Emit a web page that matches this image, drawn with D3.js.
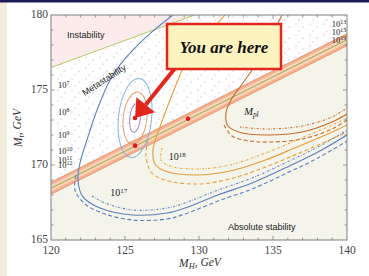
<!DOCTYPE html>
<html>
<head>
<meta charset="utf-8">
<script src="https://cdn.jsdelivr.net/npm/d3@7"></script>
<style>
body { margin: 0; background: #fff; }
</style>
</head>
<body>
<svg width="369" height="276"></svg>
<script>
// ---- data ----
var xTicks = [120, 125, 130, 135, 140];
var yTicks = [165, 170, 175, 180];

var instabilityEdge = [[120, 176.5], [129.7, 180]];
var stabilityCentre = [[120, 168.45], [140, 178.35]];
var stabilityHalf = 0.4;

var bestFit = [125.68, 173.13];
var redPoints = [[125.68, 173.13], [125.68, 171.29], [129.26, 173.08]];
var sigmaRx = [0.36, 0.8, 1.12];
var sigmaRy = [0.95, 1.75, 2.65];
var sigmaColor = ["#9a8bcb", "#e3a065", "#7db6df"];

var lam17 = [[128.24,180],[126.82,178.87],[125.54,177.67],[124.66,176.67],[123.99,175.67],[123.11,173.67],
  [122.43,171.67],[121.96,170.13],[121.82,169.0],[122.16,167.87],[123.31,167.13],[125.54,166.67],
  [127.84,166.8],[129.05,167.13],[131.28,168.0],[133.58,168.8],[135.81,169.8],[138.04,170.87],[140,172.0]];
var lam17Dash = [[121.69,169.33],[121.62,168.33],[122.3,167.4],[123.65,166.73],[125.54,166.33],[127.84,166.4],
  [129.05,166.73],[131.28,167.6],[133.58,168.4],[135.81,169.4],[138.04,170.47],[140,171.6]];
var lam17Dot = [[122.77,167.93],[123.65,167.47],[125.54,167.0],[127.84,167.13],[129.05,167.47],[131.28,168.33],
  [133.58,169.13],[135.81,170.13],[138.04,171.2],[140,172.33]];

var lam18 = [[131.76,180],[130.74,178.87],[129.73,177.67],[129.05,176.73],[128.58,175.67],[128.04,174.33],
  [127.36,172.53],[126.89,171.0],[127.03,170.07],[127.7,169.6],[129.86,169.33],[132.09,169.6],
  [134.32,170.27],[136.62,171.2],[138.85,172.13],[140,172.67]];
var lam18Dash = [[126.55,171.67],[126.42,170.67],[126.76,169.53],[127.7,169.0],[129.86,168.73],[132.09,169.07],
  [134.32,169.8],[136.62,170.73],[138.85,171.67],[140,172.2]];
var lam18Dot = [[127.5,171.13],[127.43,170.33],[128.04,169.93],[129.86,169.73],[132.09,170.0],[134.32,170.73],
  [136.62,171.67],[138.85,172.6],[140,173.13]];

var lamPl = [[135.61,180],[134.93,178.67],[134.26,177.33],[133.45,176.13],[132.77,175.2],[132.16,174.33],
  [131.82,173.47],[131.96,172.6],[132.91,172.13],[134.66,172.0],[136.96,172.2],[138.99,172.87],[140,173.4]];
var lamPlDash = [[131.69,172.67],[132.23,171.93],[133.45,171.6],[134.66,171.53],[136.96,171.73],[138.99,172.4],[140,173.0]];
var lamPlDot = [[132.77,172.53],[134.66,172.4],[136.96,172.6],[138.99,173.2],[140,173.8]];

var leftExps = [7, 8, 9, 10, 11, 12];
var leftMt = [175.13, 173.33, 171.8, 170.73, 170.13, 169.8];
var rightExps = [13, 15, 19];
var rightMt = [179.2, 178.67, 178.13];

// ---- setup ----
var svg = d3.select("svg");
var x = d3.scaleLinear().domain([120, 140]).range([51, 347]);
var y = d3.scaleLinear().domain([165, 180]).range([240, 15]);
var serif = "Liberation Serif", sans = "Liberation Sans";

// page decorations
svg.append("rect").attr("x", 0).attr("y", 0).attr("width", 7).attr("height", 276).attr("fill", "#f3eddb");
svg.append("rect").attr("x", 0).attr("y", 0).attr("width", 369).attr("height", 2.5).attr("fill", "#1b1b58");

var defs = svg.append("defs");
defs.append("clipPath").attr("id", "plot")
  .append("rect").attr("x", 51).attr("y", 15).attr("width", 296).attr("height", 225);
var pat = defs.append("pattern").attr("id", "dots").attr("patternUnits", "userSpaceOnUse")
  .attr("width", 14).attr("height", 11);
[[2, 2], [9, 5], [5, 9]].forEach(function(p) {
  pat.append("circle").attr("cx", p[0]).attr("cy", p[1]).attr("r", 0.55).attr("fill", "#c58ac8");
});

var g = svg.append("g").attr("clip-path", "url(#plot)");

function bandAt(mh, off) {
  var a = stabilityCentre[0], b = stabilityCentre[1];
  return a[1] + (b[1] - a[1]) * (mh - a[0]) / (b[0] - a[0]) + off;
}
function pt(d) { return x(d[0]) + "," + y(d[1]); }

// stability region
g.append("rect").attr("x", 51).attr("y", 15).attr("width", 296).attr("height", 225).attr("fill", "#f4f4ea");
// metastability region
var meta = [[120, bandAt(120, stabilityHalf)], [120, 180], [140, 180], [140, bandAt(140, stabilityHalf)]];
g.append("polygon").attr("points", meta.map(pt).join(" ")).attr("fill", "#fff");
g.append("polygon").attr("points", meta.map(pt).join(" ")).attr("fill", "url(#dots)");
// instability region
var slope = (instabilityEdge[1][1] - instabilityEdge[0][1]) / (instabilityEdge[1][0] - instabilityEdge[0][0]);
var inst = [instabilityEdge[0], [140, instabilityEdge[0][1] + slope * 20], [140, 181], [120, 181]];
g.append("polygon").attr("points", inst.map(pt).join(" ")).attr("fill", "#fbeceb");
g.append("line")
  .attr("x1", x(120)).attr("y1", y(instabilityEdge[0][1]))
  .attr("x2", x(140)).attr("y2", y(instabilityEdge[0][1] + slope * 20))
  .attr("stroke", "#b7c462").attr("stroke-width", 1);

// stability band: salmon edges, paler inside, green central line
var band = [[120, bandAt(120, stabilityHalf)], [140, bandAt(140, stabilityHalf)],
            [140, bandAt(140, -stabilityHalf)], [120, bandAt(120, -stabilityHalf)]];
g.append("polygon").attr("points", band.map(pt).join(" "))
  .attr("fill", "#f3b190").attr("stroke", "#ee9670").attr("stroke-width", 1);
var inner = [[120, bandAt(120, stabilityHalf * 0.55)], [140, bandAt(140, stabilityHalf * 0.55)],
             [140, bandAt(140, -stabilityHalf * 0.55)], [120, bandAt(120, -stabilityHalf * 0.55)]];
g.append("polygon").attr("points", inner.map(pt).join(" ")).attr("fill", "#f8d2ba");
g.append("line")
  .attr("x1", x(120)).attr("y1", y(stabilityCentre[0][1]))
  .attr("x2", x(140)).attr("y2", y(stabilityCentre[1][1]))
  .attr("stroke", "#93b044").attr("stroke-width", 1);

// contour lines
var line = d3.line().curve(d3.curveCatmullRom.alpha(0.5))
  .x(function(d) { return x(d[0]); })
  .y(function(d) { return y(d[1]); });

var contours = [
  {pts: lam17, c: "#5a80c2", dash: null},
  {pts: lam17Dash, c: "#5a80c2", dash: "4,2.5"},
  {pts: lam17Dot, c: "#5a80c2", dash: "2,1.5,0.6,1.5"},
  {pts: lam18, c: "#e89b3a", dash: null},
  {pts: lam18Dash, c: "#e89b3a", dash: "4,2.5"},
  {pts: lam18Dot, c: "#e89b3a", dash: "2,1.5,0.6,1.5"},
  {pts: lamPl, c: "#c46b2a", dash: null},
  {pts: lamPlDash, c: "#c46b2a", dash: "4,2.5"},
  {pts: lamPlDot, c: "#c46b2a", dash: "2,1.5,0.6,1.5"}
];
g.selectAll(".contour").data(contours).enter().append("path")
  .attr("class", "contour")
  .attr("d", function(d) { return line(d.pts); })
  .attr("fill", "none")
  .attr("stroke", function(d) { return d.c; })
  .attr("stroke-width", 1.1)
  .attr("stroke-dasharray", function(d) { return d.dash; });

// confidence ellipses
var cx = x(bestFit[0]), cy = y(bestFit[1]);
g.selectAll(".sigma").data(sigmaRx).enter().append("ellipse")
  .attr("class", "sigma")
  .attr("cx", cx).attr("cy", cy)
  .attr("rx", function(d) { return x(bestFit[0] + d) - cx; })
  .attr("ry", function(d, i) { return cy - y(bestFit[1] + sigmaRy[i]); })
  .attr("transform", "rotate(6," + cx + "," + cy + ")")
  .attr("fill", "none")
  .attr("stroke", function(d, i) { return sigmaColor[i]; })
  .attr("stroke-width", 1);

g.selectAll(".pt").data(redPoints).enter().append("circle")
  .attr("class", "pt")
  .attr("cx", function(d) { return x(d[0]); })
  .attr("cy", function(d) { return y(d[1]); })
  .attr("r", 2.3).attr("fill", "#e8141c");

// text labels in the plot
function pow10(sel, e) {
  sel.append("tspan").text("10");
  sel.append("tspan").attr("font-size", "0.7em").attr("dy", "-0.45em").text(e);
}
leftExps.forEach(function(e, i) {
  svg.append("text").attr("font-family", serif).attr("x", x(120.47)).attr("y", y(leftMt[i]))
    .attr("font-size", 8.5).attr("fill", "#222")
    .call(pow10, e);
});
rightExps.forEach(function(e, i) {
  svg.append("text").attr("font-family", serif).attr("x", x(139.95)).attr("y", y(rightMt[i]))
    .attr("text-anchor", "end")
    .attr("font-size", 8.5).attr("fill", "#222")
    .call(pow10, e);
});
svg.append("text").attr("font-family", serif).attr("x", x(124)).attr("y", y(167.93))
  .attr("font-size", 10).attr("fill", "#222").call(pow10, 17);
svg.append("text").attr("font-family", serif).attr("x", x(127.95)).attr("y", y(170.33))
  .attr("font-size", 10).attr("fill", "#222").call(pow10, 18);
var mpl = svg.append("text").attr("font-family", serif).attr("x", x(133.05)).attr("y", y(173.33))
  .attr("font-size", 10.5).attr("font-style", "italic").attr("fill", "#222");
mpl.append("tspan").text("M");
mpl.append("tspan").attr("font-size", "0.7em").attr("dy", "0.3em").text("pl");

svg.append("text").attr("font-family", sans).attr("x", x(121.08)).attr("y", y(178.47))
  .attr("font-size", 9).attr("fill", "#222").text("Instability");
svg.append("text").attr("font-family", sans).attr("x", 104).attr("y", 80)
  .attr("transform", "rotate(-33,104,80)").attr("text-anchor", "middle").attr("dy", "0.35em")
  .attr("font-size", 9).attr("fill", "#222").text("Metastability");
svg.append("text").attr("font-family", sans).attr("x", x(131.96)).attr("y", y(165.67))
  .attr("font-size", 9).attr("fill", "#222").text("Absolute stability");

// frame and ticks
svg.append("rect").attr("x", 51).attr("y", 15).attr("width", 296).attr("height", 225)
  .attr("fill", "none").attr("stroke", "#808080").attr("stroke-width", 1);
var tickG = svg.append("g").attr("stroke", "#808080").attr("stroke-width", 0.8);
d3.range(121, 140).forEach(function(v) {
  var len = v % 5 === 0 ? 4 : 2.5;
  tickG.append("line").attr("x1", x(v)).attr("x2", x(v)).attr("y1", 240).attr("y2", 240 - len);
  tickG.append("line").attr("x1", x(v)).attr("x2", x(v)).attr("y1", 15).attr("y2", 15 + len);
});
d3.range(166, 180).forEach(function(v) {
  var len = v % 5 === 0 ? 4 : 2.5;
  tickG.append("line").attr("y1", y(v)).attr("y2", y(v)).attr("x1", 51).attr("x2", 51 + len);
  tickG.append("line").attr("y1", y(v)).attr("y2", y(v)).attr("x1", 347).attr("x2", 347 - len);
});

svg.selectAll(".xl").data(xTicks).enter().append("text")
  .attr("class", "xl").attr("font-family", serif)
  .attr("x", function(d) { return x(d); }).attr("y", 254)
  .attr("text-anchor", "middle")
  .attr("font-size", 11.5).attr("fill", "#444")
  .text(function(d) { return d; });
svg.selectAll(".yl").data(yTicks).enter().append("text")
  .attr("class", "yl").attr("font-family", serif)
  .attr("x", 48).attr("y", function(d) { return y(d); }).attr("dy", "0.3em")
  .attr("text-anchor", "end")
  .attr("font-size", 11.5).attr("fill", "#444")
  .text(function(d) { return d; });

var xt = svg.append("text").attr("font-family", serif).attr("x", 200).attr("y", 267).attr("text-anchor", "middle")
  .attr("font-size", 11.5).attr("font-style", "italic").attr("fill", "#333");
xt.append("tspan").text("M");
xt.append("tspan").attr("font-size", "0.72em").attr("dy", "0.3em").text("H");
xt.append("tspan").attr("dy", "-0.3em").text(", GeV");
var yt = svg.append("text").attr("font-family", serif).attr("transform", "translate(22,128) rotate(-90)")
  .attr("text-anchor", "middle")
  .attr("font-size", 11.5).attr("font-style", "italic").attr("fill", "#333");
yt.append("tspan").text("M");
yt.append("tspan").attr("font-size", "0.72em").attr("dy", "0.3em").text("t");
yt.append("tspan").attr("dy", "-0.3em").text(", GeV");

// "You are here" callout
var tipX = x(bestFit[0]), tipY = y(bestFit[1]);
var tailX = 176, tailY = 67;
var ang = Math.atan2(tipY - tailY, tipX - tailX);
var headLen = 17, headW = 12;
var bx = tipX - headLen * Math.cos(ang), by = tipY - headLen * Math.sin(ang);
svg.append("line").attr("x1", tailX).attr("y1", tailY).attr("x2", bx).attr("y2", by)
  .attr("stroke", "#e2261c").attr("stroke-width", 4);
svg.append("polygon").attr("fill", "#e2261c").attr("points", [
  [tipX, tipY],
  [bx + headW * Math.sin(ang), by - headW * Math.cos(ang)],
  [bx - headW * Math.sin(ang), by + headW * Math.cos(ang)]
].map(function(p) { return p.join(","); }).join(" "));

svg.append("rect").attr("x", 167).attr("y", 24).attr("width", 114).attr("height", 45)
  .attr("fill", "#fdf3bf").attr("stroke", "#e2261c").attr("stroke-width", 2.5);
svg.append("text").attr("font-family", serif).attr("x", 224).attr("y", 53).attr("text-anchor", "middle")
  .attr("font-size", 17).attr("font-weight", "bold").attr("font-style", "italic")
  .attr("fill", "#111").text("You are here");
</script>
</body>
</html>
